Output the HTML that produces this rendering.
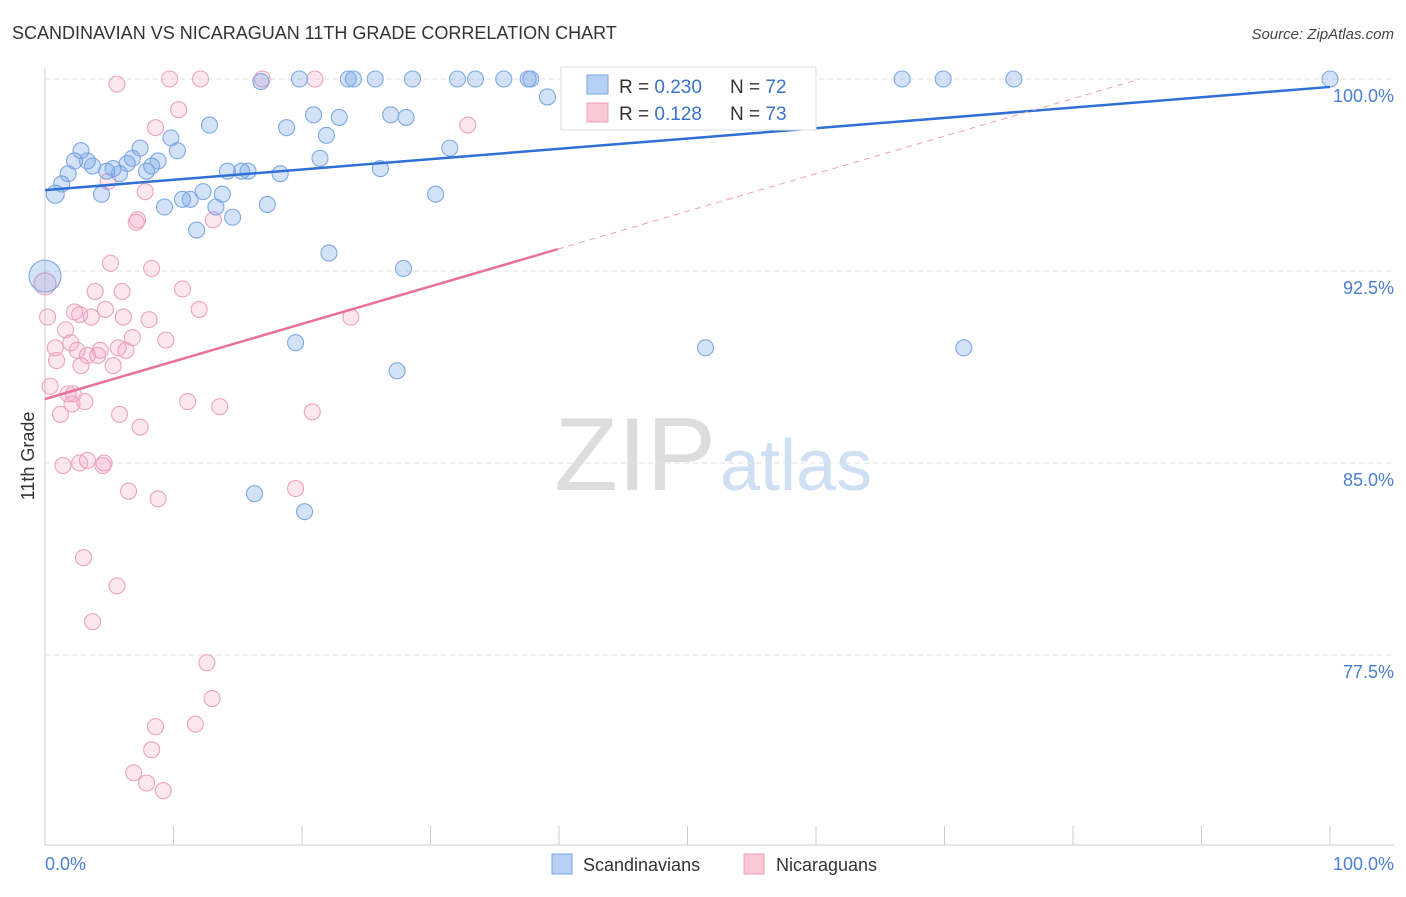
<!DOCTYPE html>
<html><head><meta charset="utf-8"><style>
body{margin:0;background:#fff;font-family:"Liberation Sans",sans-serif;}
svg text{font-family:"Liberation Sans",sans-serif;}
</style></head><body>
<svg id="c" width="1406" height="892" xmlns="http://www.w3.org/2000/svg">
<text x="12" y="39" font-size="18" fill="#333">SCANDINAVIAN VS NICARAGUAN 11TH GRADE CORRELATION CHART</text>
<text x="1394" y="39" font-size="15" fill="#444" font-style="italic" text-anchor="end">Source: ZipAtlas.com</text>
<text x="716" y="490" font-size="104" fill="#ddd" text-anchor="end" font-family="Liberation Serif">ZIP</text>
<text x="720" y="490" font-size="72" fill="#cfe0f5">atlas</text>
<g id="grid"></g><g id="pts"></g><g id="lines"></g>
<text transform="translate(34,456) rotate(-90)" font-size="18" fill="#333" text-anchor="middle">11th Grade</text>
<text x="45" y="870" font-size="18" fill="#4a7fd4">0.0%</text>
<text x="1394" y="870" font-size="18" fill="#4a7fd4" text-anchor="end">100.0%</text>
<g>
<rect x="561" y="67" width="255" height="63" fill="#fff" stroke="#ddd"/>
<rect x="587" y="75" width="21" height="19" fill="#b6d0f3" stroke="#7aa6e6"/>
<rect x="587" y="103" width="21" height="19" fill="#fbc8d6" stroke="#eda0b9"/>
<text x="619" y="93" font-size="19" fill="#333">R = <tspan fill="#3a72cc">0.230</tspan></text>
<text x="730" y="93" font-size="19" fill="#333">N = <tspan fill="#3a72cc">72</tspan></text>
<text x="619" y="120" font-size="19" fill="#333">R = <tspan fill="#3a72cc"> 0.128</tspan></text>
<text x="730" y="120" font-size="19" fill="#333">N = <tspan fill="#3a72cc">73</tspan></text>
</g>
<g><rect x="552" y="854" width="20" height="20" fill="#b6d0f3" stroke="#7aa6e6"/><text x="583" y="871" font-size="18" fill="#333">Scandinavians</text></g>
<g><rect x="744" y="854" width="20" height="20" fill="#fbc8d6" stroke="#eda0b9"/><text x="776" y="871" font-size="18" fill="#333">Nicaraguans</text></g>
</svg>
<script>
const yTicks=[100,92.5,85,77.5];
const yTickLabels=["100.0%","92.5%","85.0%","77.5%"];
const xTicks=[0,10,20,30,40,50,60,70,80,90,100];
const blueX=[0.8,1.3,1.8,2.3,2.8,3.3,3.7,4.4,4.8,5.3,5.8,6.4,6.8,7.4,7.9,8.3,8.8,9.3,9.8,10.3,10.7,11.3,11.8,12.3,12.8,13.3,13.8,14.2,14.6,15.3,15.8,16.8,17.3,18.3,18.8,19.5,19.8,20.9,21.4,21.9,22.9,23.6,24.0,25.7,26.9,28.1,28.6,26.1,22.1,27.9,27.4,30.4,31.5,32.1,33.5,35.7,37.6,37.8,39.1,42.1,47.1,48.4,51.4,66.7,69.9,71.5,75.4,100,16.3,20.2,0];
const blueY=[95.5,95.9,96.3,96.8,97.2,96.8,96.6,95.5,96.4,96.5,96.3,96.7,96.9,97.3,96.4,96.6,96.8,95.0,97.7,97.2,95.3,95.3,94.1,95.6,98.2,95.0,95.5,96.4,94.6,96.4,96.4,99.9,95.1,96.3,98.1,89.7,100,98.6,96.9,97.8,98.5,100,100,100,98.6,98.5,100,96.5,93.2,92.6,88.6,95.5,97.3,100,100,100,100,100,99.3,100,100,100,89.5,100,100,89.5,100,100,83.8,83.1,92.3];
const blueR=[9,8,8,8,8,8,8,8,8,8,8,8,8,8,8,8,8,8,8,8,8,8,8,8,8,8,8,8,8,8,8,8,8,8,8,8,8,8,8,8,8,8,8,8,8,8,8,8,8,8,8,8,8,8,8,8,8,8,8,8,8,8,8,8,8,8,8,8,8,8,16];
const pinkX=[0,0.2,0.4,0.8,0.9,1.2,1.4,1.6,1.8,2.0,2.1,2.3,2.5,2.7,2.8,3.1,3.3,3.3,3.6,3.9,4.1,4.3,4.6,4.7,5.1,5.3,5.6,5.8,6.0,6.1,6.3,6.5,6.8,7.2,7.4,7.8,8.1,8.3,8.8,9.4,9.7,10.4,10.7,11.1,11.7,12.0,12.1,12.6,13.0,13.1,13.6,16.9,19.5,20.8,21.0,23.8,32.9,5.6,8.6,4.9,7.1,3.0,3.7,6.9,7.9,9.2,8.3,8.6,4.5,2.7,2.2,5.7];
const pinkY=[92,90.7,88.0,89.5,89.0,86.9,84.9,90.2,87.7,89.7,87.3,90.9,89.4,90.8,88.8,87.4,89.2,85.1,90.7,91.7,89.2,89.4,85.0,91.0,92.8,88.8,80.2,86.9,91.7,90.7,89.4,83.9,89.9,94.5,86.4,95.6,90.6,92.6,83.6,89.8,100,98.8,91.8,87.4,74.8,91.0,100,77.2,75.8,94.5,87.2,100,84.0,87.0,100,90.7,98.2,99.8,98.1,96.0,94.4,81.3,78.8,72.9,72.5,72.2,73.8,74.7,84.9,85.0,87.7,89.5];
const blueLine=[95.66,99.69];
const pinkLine=[87.5,0.1467];
const X0=45,X1=1330,Y100=79,PPU=25.6;
const sx=v=>X0+(X1-X0)*v/100, sy=v=>Y100+(100-v)*PPU;
const NS="http://www.w3.org/2000/svg";
function mk(t,a,p){const e=document.createElementNS(NS,t);for(const k in a)e.setAttribute(k,a[k]);p.appendChild(e);return e;}
const grid=document.getElementById('grid');
yTicks.forEach((v,i)=>{
 const l=mk('line',{x1:45,x2:1394,y1:sy(v),y2:sy(v),stroke:'#e2e2e2','stroke-dasharray':'5,4'},grid);
 
 
 const t=mk('text',{x:1394,y:sy(v)+23,'font-size':18,fill:'#4a7fd4','text-anchor':'end'},grid);
 t.textContent=yTickLabels[i];
 
 
});
const ax=mk('line',{x1:45,x2:45,y1:68,y2:845,stroke:'#ccc'},grid);


const bx=mk('line',{x1:45,x2:1394,y1:845,y2:845,stroke:'#ccc'},grid);


xTicks.forEach(v=>{const t=mk('line',{x1:sx(v),x2:sx(v),y1:826,y2:845,stroke:'#ccc'},grid);
 
 });
const pts=document.getElementById('pts');
pinkX.forEach((x,i)=>{const c=mk('circle',{cx:sx(x),cy:sy(pinkY[i]),r:i==0?11:8,fill:'rgba(245,160,190,0.25)',stroke:'#eba3bd','stroke-width':1.1},pts);
 
 });
blueX.forEach((x,i)=>{const c=mk('circle',{cx:sx(x),cy:sy(blueY[i]),r:blueR[i],fill:'rgba(110,160,230,0.3)',stroke:'#7ea8e4','stroke-width':1.1},pts);
 
 });
const lines=document.getElementById('lines');
const b=mk('line',{x1:sx(0),y1:sy(blueLine[0]),x2:sx(100),y2:sy(blueLine[1]),stroke:'#2f6fd6','stroke-width':2.5},lines);


const pe=v=>pinkLine[0]+pinkLine[1]*v;
const p1=mk('line',{x1:sx(0),y1:sy(pe(0)),x2:sx(39.9),y2:sy(pe(39.9)),stroke:'#e8709a','stroke-width':2.5},lines);


const xe=(100-pinkLine[0])/pinkLine[1];
const p2=mk('line',{x1:sx(39.9),y1:sy(pe(39.9)),x2:sx(xe),y2:sy(100),stroke:'#eaa0bb','stroke-width':1,'stroke-dasharray':'6,5'},lines);


</script>
</body></html>
